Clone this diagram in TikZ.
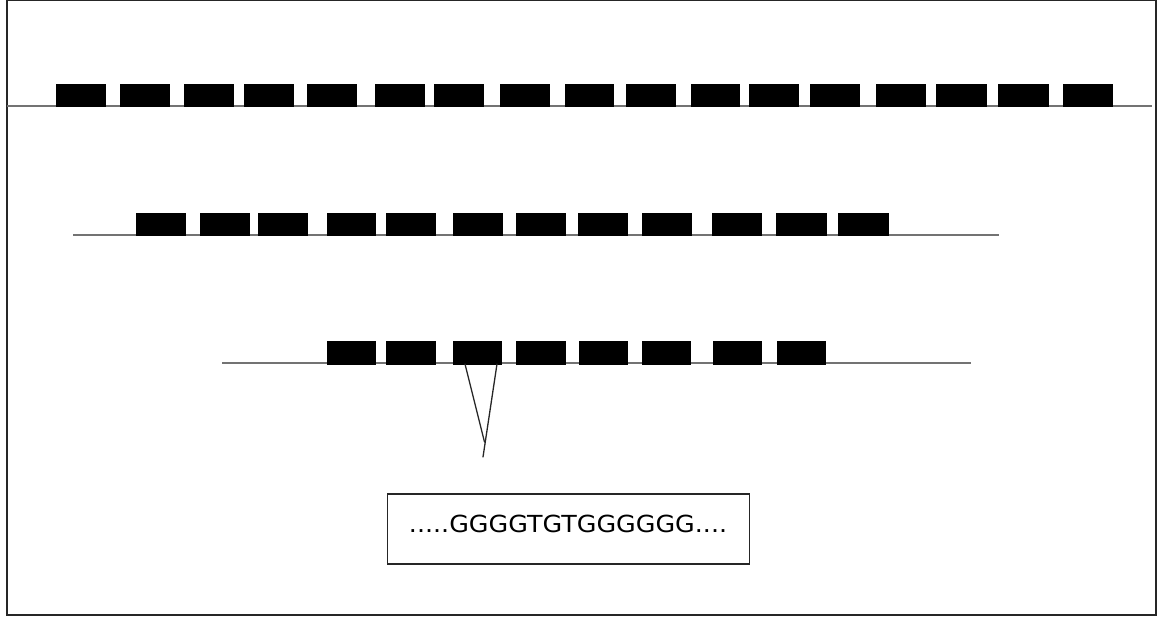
\documentclass[tikz,border=0pt]{standalone}
\usepackage{fontspec}
\newfontfamily\seqfont[FakeStretch=1.08]{DejaVu Sans}
\begin{document}
\begin{tikzpicture}[x=1pt,y=-1pt,
  rowline/.style={draw=black!55,line width=2pt},
  gene/.style={fill=black},
  frameline/.style={draw=black!85,line width=1.2pt},
  vline/.style={draw=black!85,line width=1.3pt,line cap=round},
  seqbox/.style={draw=black!85,line width=1.6pt,minimum width=362pt,minimum height=70pt,inner sep=0pt}]
\useasboundingbox (0,0) rectangle (1157,616);
\draw[frameline] (7,0.6) rectangle (1156,615);
% row 1
\coordinate (r1a) at (7,105.5);
\coordinate (r1b) at (1152,105.5);
\draw[rowline] (r1a) -- (r1b);
\foreach \a/\b in {56/106,120/170,184/234,244/294,307/357,375/425,434/484,500/550,565/614,626/676,691/740,749/799,810/860,876/926,936/987,998/1049,1063/1113}
  \fill[gene] (\a,84) rectangle (\b,106.5);
% row 2
\coordinate (r2a) at (73,235);
\coordinate (r2b) at (999,235);
\draw[rowline] (r2a) -- (r2b);
\foreach \a/\b in {136/186,200/250,258/308,327/376,386/436,453/503,516/566,578/628,642/692,712/762,776/827,838/889}
  \fill[gene] (\a,212.5) rectangle (\b,236);
% row 3
\coordinate (r3a) at (222,363);
\coordinate (r3b) at (971,363);
\draw[rowline] (r3a) -- (r3b);
\foreach \a/\b in {327/376,386/436,453/502,516/566,579/628,642/691,713/762,777/826}
  \fill[gene] (\a,341) rectangle (\b,364.5);
% zoom wedge
\coordinate (wl) at (465,364);
\coordinate (wr) at (497,364);
\coordinate (apex) at (484.5,442);
\coordinate (tail) at (483,457);
\draw[vline] (wl) -- (apex);
\draw[vline] (wr) -- (tail);
% sequence box
\node[seqbox] (box) at (568.5,529) {};
\node[anchor=base,inner sep=0pt] (seq) at (568,532) {\seqfont\fontsize{23.5}{28}\selectfont .....GGGGTGTGGGGGG....};
\end{tikzpicture}
\end{document}
